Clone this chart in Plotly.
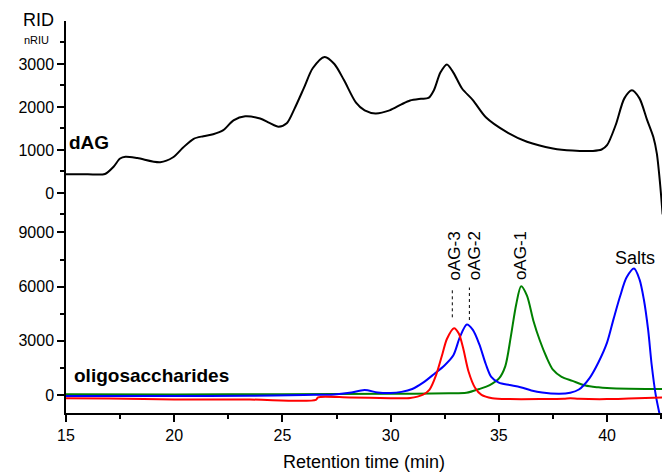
import plotly.graph_objects as go

# ---- dAG chromatogram (RID, nRIU) ----
dag_time = [15.0, 16.0, 16.8, 17.2, 17.5, 17.75, 18.3, 19.35, 19.95, 20.4, 20.9,
            21.35, 21.8, 22.27, 22.74, 23.28, 23.97, 24.4, 24.82, 25.2, 25.55,
            26.0, 26.4, 26.95, 27.4, 27.85, 28.4, 28.8, 29.3, 29.95, 30.5, 30.9,
            31.4, 31.75, 32.0, 32.3, 32.6, 32.9, 33.3, 33.8, 34.4, 35.35, 36.3,
            37.5, 38.4, 39.35, 39.75, 40.0, 40.4, 40.8, 41.15, 41.5, 41.85,
            42.14, 42.3, 42.45, 42.6]
dag_rid = [435, 435, 440, 610, 800, 840, 810, 715, 830, 1050, 1260,
           1320, 1365, 1460, 1690, 1785, 1730, 1630, 1540, 1620, 1950,
           2450, 2900, 3165, 3000, 2620, 2100, 1920, 1850, 1920, 2060, 2150,
           2190, 2210, 2390, 2800, 2990, 2800, 2430, 2160, 1760, 1420, 1190,
           1035, 985, 978, 1010, 1110, 1580, 2200, 2390, 2200, 1700,
           1300, 920, 220, -700]

# ---- oligosaccharide fractions (RID, nRIU) ----
oag3_time = [15.0, 17.0, 20.0, 23.5, 26.55, 26.65, 28.1, 30.0, 30.9, 31.5, 31.8,
             32.1, 32.4, 32.6, 32.93, 33.15, 33.35, 33.6, 33.9, 34.2, 34.7,
             35.5, 37.0, 38.0, 38.3, 38.7, 40.0, 41.0, 42.6]
oag3_rid = [-180, -200, -250, -255, -270, -130, -140, -180, -170, 20, 300,
            1100, 2300, 3100, 3700, 3400, 2600, 1300, 400, 0, -180,
            -230, -230, -215, -190, -215, -230, -200, -140]

oag2_time = [15.0, 20.0, 23.5, 26.0, 27.4, 28.1, 28.8, 29.4, 30.0, 30.5, 31.0,
             31.5, 32.0, 32.5, 32.9, 33.2, 33.52, 33.8, 34.1, 34.4, 34.65,
             35.0, 35.5, 36.0, 36.5, 37.0, 37.8, 38.3, 38.7, 39.2, 39.6, 40.0,
             40.3, 40.6, 40.9, 41.25, 41.5, 41.7, 41.9, 42.06, 42.25, 42.4, 42.6]
oag2_rid = [-60, -60, -50, 0, 30, 120, 270, 140, 110, 170, 330,
            680, 1150, 1650, 2200, 3200, 3900, 3600, 2800, 1700, 1000,
            680, 550, 430, 250, 130, 60, 120, 300, 950, 1800, 2900,
            4200, 5450, 6500, 7000, 6400, 5300, 3600, 1700, 0, -900, -1900]

oag1_time = [15.0, 20.0, 25.0, 30.0, 32.7, 33.5, 34.1, 34.6, 35.0, 35.3, 35.55,
             35.8, 36.03, 36.3, 36.6, 36.9, 37.2, 37.5, 37.9, 38.4, 39.0,
             39.6, 40.0, 41.0, 42.6]
oag1_rid = [40, 30, 40, 60, 90, 120, 330, 560, 900, 1600, 3200,
            5000, 6020, 5500, 4100, 3000, 2100, 1400, 1000, 780, 520,
            420, 380, 340, 330]

# peak labels and dotted leader lines
peak_labels = ["oAG-3", "oAG-2", "oAG-1"]
peak_label_x = [32.97, 33.88, 36.0]
leader_x = [32.85, 33.64]
leader_top = [5900, 5950]
leader_bottom = [4300, 4150]

FONT = "Liberation Sans, Arial, sans-serif"
AX = dict(showline=True, linecolor="black", linewidth=1.5, ticks="outside",
          ticklen=7, tickwidth=1.5, tickcolor="black", showgrid=False,
          zeroline=False, tickfont=dict(family=FONT, size=16, color="black"))

fig = go.Figure()
fig.add_trace(go.Scatter(x=dag_time, y=dag_rid, mode="lines", xaxis="x", yaxis="y",
                         line=dict(color="black", width=2, shape="spline", smoothing=0.8)))
fig.add_trace(go.Scatter(x=oag1_time, y=oag1_rid, mode="lines", xaxis="x", yaxis="y2",
                         line=dict(color="#008000", width=2, shape="spline", smoothing=0.8)))
fig.add_trace(go.Scatter(x=oag2_time, y=oag2_rid, mode="lines", xaxis="x", yaxis="y2",
                         line=dict(color="#0000ff", width=2, shape="spline", smoothing=0.8)))
fig.add_trace(go.Scatter(x=oag3_time, y=oag3_rid, mode="lines", xaxis="x", yaxis="y2",
                         line=dict(color="#ff0000", width=2, shape="spline", smoothing=0.8)))

split = 0.5066
fig.update_layout(
    width=662, height=474,
    margin=dict(l=66, r=0, t=21, b=61),
    paper_bgcolor="white", plot_bgcolor="white",
    showlegend=False,
    font=dict(family=FONT, color="black"),
    xaxis=dict(AX, domain=[0, 1], anchor="y2", range=[15, 42.54],
               tickmode="linear", tick0=15, dtick=5,
               minor=dict(ticks="outside", ticklen=4, tickwidth=1.5, tickcolor="black",
                          tick0=15, dtick=2.5, showgrid=False),
               title=dict(text="Retention time (min)", standoff=12,
                          font=dict(family=FONT, size=18, color="black"))),
    yaxis=dict(AX, domain=[split, 1], anchor="x", range=[-500, 4000],
               tickvals=[0, 1000, 2000, 3000],
               minor=dict(ticks="outside", ticklen=4, tickwidth=1.5, tickcolor="black",
                          tickvals=[-500, 500, 1500, 2500, 3500], showgrid=False)),
    yaxis2=dict(AX, domain=[0, split], anchor="x", range=[-1000, 10000],
                tickvals=[0, 3000, 6000, 9000],
                minor=dict(ticks="outside", ticklen=4, tickwidth=1.5, tickcolor="black",
                           tickvals=[1500, 4500, 7500], showgrid=False)),
)

ann = []
ann.append(dict(text="RID", xref="paper", yref="paper", x=-0.046, y=0.973,
                xanchor="center", yanchor="bottom", showarrow=False,
                font=dict(family=FONT, size=18)))
ann.append(dict(text="nRIU", xref="paper", yref="paper", x=-0.05, y=0.972,
                xanchor="center", yanchor="top", showarrow=False,
                font=dict(family=FONT, size=11)))
ann.append(dict(text="<b>dAG</b>", xref="x", yref="y", x=15.05, y=1170,
                xanchor="left", yanchor="middle", showarrow=False,
                font=dict(family=FONT, size=19)))
ann.append(dict(text="<b>oligosaccharides</b>", xref="x", yref="y2", x=15.28, y=1050,
                xanchor="left", yanchor="middle", showarrow=False,
                font=dict(family=FONT, size=19)))
for lbl, lx in zip(peak_labels, peak_label_x):
    ann.append(dict(text=lbl, xref="x", yref="y2", x=lx, y=6250, textangle=-90,
                    xanchor="center", yanchor="bottom", showarrow=False,
                    font=dict(family=FONT, size=17)))
ann.append(dict(text="Salts", xref="x", yref="y2", x=41.27, y=7580,
                xanchor="center", yanchor="middle", showarrow=False,
                font=dict(family=FONT, size=18)))
fig.update_layout(annotations=ann)

for lx, yt, yb in zip(leader_x, leader_top, leader_bottom):
    fig.add_shape(type="line", xref="x", yref="y2", x0=lx, x1=lx, y0=yb, y1=yt,
                  line=dict(color="black", width=1, dash="dot"))

fig.write_html("out.html")
